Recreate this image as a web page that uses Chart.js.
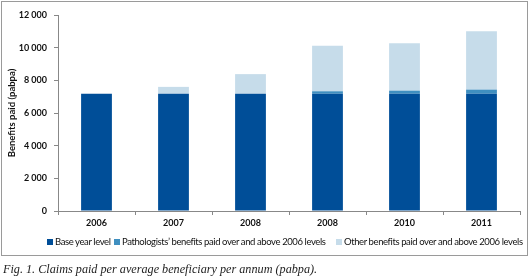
<!DOCTYPE html>
<html>
<head>
<meta charset="utf-8">
<script src="https://cdn.jsdelivr.net/npm/chart.js@4/dist/chart.umd.min.js"></script>
<style>
  html, body { margin: 0; padding: 0; background: #fff; }
  #wrap { position: relative; width: 529px; height: 279px; overflow: hidden; }
  #box { position: absolute; left: 1px; top: 1px; width: 525px; height: 253px; border: 1px solid #9a9a9a; }
  #c { position: absolute; left: 0; top: 0; }
  #cap { position: absolute; left: 3px; top: 262px; font-family: "Liberation Serif", "DejaVu Serif", serif; font-style: italic; font-size: 12.2px; color: #222; white-space: nowrap; }
  .lg { position: absolute; top: 236px; height: 12px; line-height: 12px; font-family: Lato, "Open Sans", sans-serif; font-size: 9.5px; letter-spacing: -0.4px; color: #111; white-space: nowrap; }
  .lg i { display: inline-block; width: 6px; height: 6px; margin-right: 2px; vertical-align: 0px; }
</style>
</head>
<body>
<div id="wrap">
  <div id="box"></div>
  <canvas id="c" width="529" height="279"></canvas>
  <div id="legend"></div>
  <div id="cap">Fig. 1. Claims paid per average beneficiary per annum (pabpa).</div>
</div>
<script>
const categories = ["2006", "2007", "2008", "2008", "2010", "2011"];
const baseYear = [7180, 7180, 7180, 7180, 7180, 7180];
const pathologists = [0, 0, 0, 150, 190, 250];
const otherBenefits = [0, 420, 1200, 2780, 2900, 3580];
const yTicks = [0, 2000, 4000, 6000, 8000, 10000, 12000];
const seriesNames = ["Base year level", "Pathologists\u2019 benefits paid over and above 2006 levels", "Other benefits paid over and above 2006 levels"];
const seriesColors = ["#004e98", "#3f8fc0", "#c6dcea"];

const FONT = "Lato, 'Open Sans', sans-serif";

function fmt(v) {
  const s = String(v);
  if (s.length > 3) return s.slice(0, s.length - 3) + " " + s.slice(s.length - 3);
  return s;
}

// HTML legend
const legendLefts = [47, 114, 336];
const lg = document.getElementById('legend');
seriesNames.forEach((n, i) => {
  const d = document.createElement('div');
  d.className = 'lg';
  d.style.left = legendLefts[i] + 'px';
  const b = document.createElement('i');
  b.style.background = seriesColors[i];
  d.appendChild(b);
  d.appendChild(document.createTextNode(n));
  lg.appendChild(d);
});

new Chart(document.getElementById('c'), {
  type: 'bar',
  data: {
    labels: categories,
    datasets: [
      { label: seriesNames[0], data: baseYear, backgroundColor: seriesColors[0] },
      { label: seriesNames[1], data: pathologists, backgroundColor: seriesColors[1] },
      { label: seriesNames[2], data: otherBenefits, backgroundColor: seriesColors[2] }
    ]
  },
  options: {
    responsive: false,
    animation: false,
    devicePixelRatio: 1,
    datasets: { bar: { categoryPercentage: 1.0, barPercentage: 0.4 } },
    layout: { padding: { top: 15, right: 9, left: 0, bottom: 42 } },
    plugins: {
      tooltip: { enabled: false },
      legend: { display: false }
    },
    scales: {
      x: {
        stacked: true,
        grid: { drawOnChartArea: false, tickLength: 4, color: '#888' },
        border: { color: '#888' },
        ticks: { color: '#111', font: { family: FONT, size: 9, weight: 'bold' }, padding: 3 },
        afterFit: s => { s.height = 26; }
      },
      y: {
        stacked: true,
        min: 0, max: 12000,
        afterBuildTicks: s => { s.ticks = yTicks.map(v => ({ value: v })); },
        grid: { drawOnChartArea: false, tickLength: 4, color: '#888' },
        border: { color: '#888' },
        ticks: { color: '#111', font: { family: FONT, size: 9, weight: 'bold' }, padding: 7, callback: v => fmt(v) },
        title: { display: true, text: 'Benefits paid (pabpa)', color: '#111', font: { family: FONT, size: 9.5, weight: 'bold' }, padding: { top: 6, bottom: 0 } },
        afterFit: s => { s.width = 58; }
      }
    }
  }
});
</script>
</body>
</html>
